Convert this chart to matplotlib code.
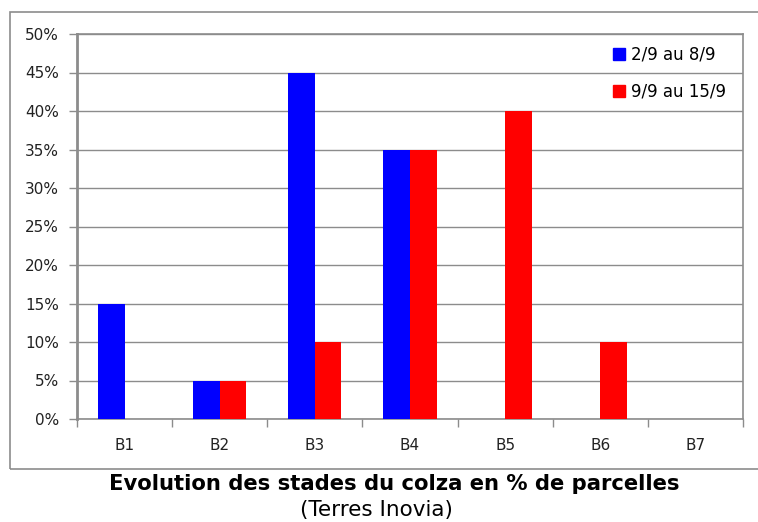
import matplotlib
matplotlib.use("Agg")
import matplotlib.pyplot as plt
from matplotlib.patches import Rectangle, Patch
from matplotlib.ticker import FuncFormatter, FixedLocator
import numpy as np

categories = ["B1", "B2", "B3", "B4", "B5", "B6", "B7"]
serie1_label = "2/9 au 8/9"
serie2_label = "9/9 au 15/9"
serie1 = [0.15, 0.05, 0.45, 0.35, 0.0, 0.0, 0.0]
serie2 = [0.0, 0.05, 0.10, 0.35, 0.40, 0.10, 0.0]
title = "Evolution des stades du colza en % de parcelles"
subtitle = "(Terres Inovia)"

W, H = 758, 522
fig = plt.figure(figsize=(W / 100, H / 100), dpi=100)
plt.rcParams['font.family'] = ['DejaVu Sans']

# outer chart frame
fig.patches.append(Rectangle((10 / W, (H - 469) / H), 1.2, (469 - 12) / H,
                             transform=fig.transFigure, fill=False,
                             edgecolor="#8c8c8c", linewidth=1.2, zorder=0))

ax = fig.add_axes([77 / W, (H - 419) / H, (743 - 77) / W, (419 - 34) / H])
x = np.arange(len(categories))
bw = 0.28
ax.bar(x - bw / 2, serie1, width=bw, color="#0000ff", label=serie1_label, zorder=3)
ax.bar(x + bw / 2, serie2, width=bw, color="#ff0000", label=serie2_label, zorder=3)

ax.set_xlim(-0.5, len(categories) - 0.5)
ax.set_ylim(0, 0.5)
ax.set_yticks(np.arange(0, 0.51, 0.05))
ax.yaxis.set_major_formatter(FuncFormatter(lambda v, p: f"{round(v * 100):d}%"))
ax.yaxis.grid(True, color="#8c8c8c", linewidth=1.0, zorder=0)
ax.set_axisbelow(True)

ax.set_xticks(x)
ax.set_xticklabels(categories)
ax.xaxis.set_minor_locator(FixedLocator(np.arange(-0.5, len(categories), 1.0)))
ax.tick_params(axis="x", which="major", length=0, pad=14, labelsize=11, labelcolor="#222222")
ax.tick_params(axis="x", which="minor", length=6, width=1, color="#8c8c8c", direction="out")
ax.tick_params(axis="y", length=6, width=1, color="#8c8c8c", pad=7, labelsize=11, labelcolor="#222222")

for s in ax.spines.values():
    s.set_color("#8c8c8c")
    s.set_linewidth(1.2)
ax.spines["left"].set_linewidth(2)

handles = [Patch(color="#0000ff"), Patch(color="#ff0000")]
ax.legend(handles, [serie1_label, serie2_label], loc="upper right",
          bbox_to_anchor=(1.0 - 5 / 666, 1.0), frameon=False, fontsize=12,
          handlelength=0.7, handleheight=0.7, handletextpad=0.4,
          labelspacing=1.15, borderaxespad=0.3)

fig.text(394 / W, (H - 484) / H, title, ha="center", va="center",
         fontsize=15.2, fontweight="bold", color="black")
fig.text(376 / W, (H - 510) / H, subtitle, ha="center", va="center",
         fontsize=15.5, color="black")

fig.savefig("out.png", dpi=100)
